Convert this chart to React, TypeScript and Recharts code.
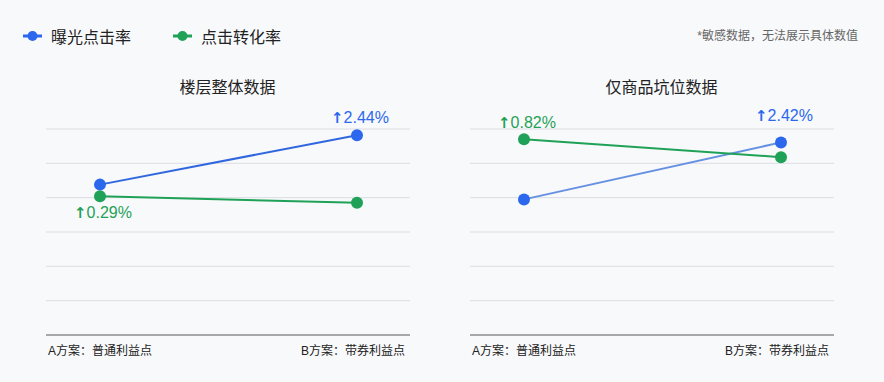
import { LineChart, Line, XAxis, YAxis, CartesianGrid, LabelList } from "recharts"

const FONT = '"Liberation Sans", "Noto Sans CJK SC", sans-serif'

const categories = ["A方案：普通利益点", "B方案：带券利益点"]
const yTicks = [0, 1, 2, 3, 4, 5, 6]

// 楼层整体数据
const floorClick = [4.38, 5.82]
const floorConvert = [4.04, 3.85]
const floorClickLabels = ["", "2.44%"]
const floorConvertLabels = ["0.29%", ""]

// 仅商品坑位数据
const itemClick = [3.95, 5.61]
const itemConvert = [5.7, 5.18]
const itemClickLabels = ["", "2.42%"]
const itemConvertLabels = ["0.82%", ""]

const BLUE = "#2b68ee"
const GREEN = "#1fa257"

interface PanelProps {
  title: string
  left: number
  titleShift: number
  click: number[]
  convert: number[]
  clickLabels: string[]
  convertLabels: string[]
  clickLineColor: string
  clickLabelDy: number
  convertLabelDy: number
}

function renderTick(props: any) {
  const { x, y, payload, index } = props
  const first = index === 0
  return (
    <text
      x={first ? x - 52 : x + 48}
      y={y + 12}
      textAnchor={first ? "start" : "end"}
      fontSize={12}
      fill="#222"
      fontFamily={FONT}
    >
      {payload.value}
    </text>
  )
}

function makeLabel(color: string, dy: number) {
  return (props: any) => {
    const { x, y, value } = props
    if (!value) return null
    return (
      <text x={x + 3} y={y + dy} textAnchor="middle" fontSize={16} fill={color} fontFamily={FONT}>
        <tspan fontFamily='"DejaVu Sans"' fontWeight="bold" fontSize={15}>
          ↑
        </tspan>
        <tspan>{value}</tspan>
      </text>
    )
  }
}

function Panel(p: PanelProps) {
  const data = categories.map((name, i) => ({
    name,
    click: p.click[i],
    convert: p.convert[i],
    clickLabel: p.clickLabels[i],
    convertLabel: p.convertLabels[i],
  }))
  return (
    <div style={{ position: "absolute", left: p.left, top: 0, width: 442, height: 382 }}>
      <div
        style={{
          position: "absolute",
          top: 74,
          left: p.titleShift,
          width: 455,
          textAlign: "center",
          fontSize: 16,
          color: "#222",
          fontFamily: FONT,
        }}
      >
        {p.title}
      </div>
      <LineChart width={442} height={382} data={data} margin={{ top: 129, right: 32, bottom: 17, left: 46 }}>
        <CartesianGrid horizontal vertical={false} stroke="#dcdde2" />
        <YAxis hide domain={[0, 6]} ticks={yTicks} />
        <XAxis
          dataKey="name"
          height={30}
          padding={{ left: 54, right: 53 }}
          axisLine={{ stroke: "#666", strokeWidth: 1 }}
          tickLine={false}
          interval={0}
          tick={renderTick}
        />
        <Line
          dataKey="click"
          stroke={p.clickLineColor}
          strokeWidth={2}
          dot={{ r: 6, fill: BLUE, stroke: BLUE, strokeWidth: 0 }}
          isAnimationActive={false}
        >
          <LabelList dataKey="clickLabel" content={makeLabel(BLUE, p.clickLabelDy)} />
        </Line>
        <Line
          dataKey="convert"
          stroke={GREEN}
          strokeWidth={2}
          dot={{ r: 6, fill: GREEN, stroke: GREEN, strokeWidth: 0 }}
          isAnimationActive={false}
        >
          <LabelList dataKey="convertLabel" content={makeLabel(GREEN, p.convertLabelDy)} />
        </Line>
      </LineChart>
    </div>
  )
}

function LegendItem({ color, text, left }: { color: string; text: string; left: number }) {
  return (
    <div style={{ position: "absolute", left, top: 24, display: "flex", alignItems: "center", fontFamily: FONT }}>
      <svg width={20} height={20}>
        <line x1={0} y1={10} x2={19} y2={10} stroke={color} strokeWidth={3} />
        <circle cx={9.5} cy={10} r={5} fill={color} />
      </svg>
      <span style={{ marginLeft: 8, fontSize: 16, color: "#222" }}>{text}</span>
    </div>
  )
}

export default function App() {
  return (
    <div
      style={{
        position: "absolute",
        left: 0,
        top: 0,
        width: 884,
        height: 382,
        background: "#f8f9fb",
        overflow: "hidden",
      }}
    >
      <LegendItem color={BLUE} text="曝光点击率" left={23} />
      <LegendItem color={GREEN} text="点击转化率" left={173} />
      <div
        style={{
          position: "absolute",
          right: 26,
          top: 26,
          fontSize: 12,
          color: "#666",
          fontFamily: FONT,
        }}
      >
        *敏感数据，无法展示具体数值
      </div>
      <Panel
        title="楼层整体数据"
        left={0}
        titleShift={0}
        click={floorClick}
        convert={floorConvert}
        clickLabels={floorClickLabels}
        convertLabels={floorConvertLabels}
        clickLineColor="#3067df"
        clickLabelDy={-12}
        convertLabelDy={22}
      />
      <Panel
        title="仅商品坑位数据"
        left={424}
        titleShift={10}
        click={itemClick}
        convert={itemConvert}
        clickLabels={itemClickLabels}
        convertLabels={itemConvertLabels}
        clickLineColor="#6690e2"
        clickLabelDy={-21}
        convertLabelDy={-11}
      />
    </div>
  )
}
